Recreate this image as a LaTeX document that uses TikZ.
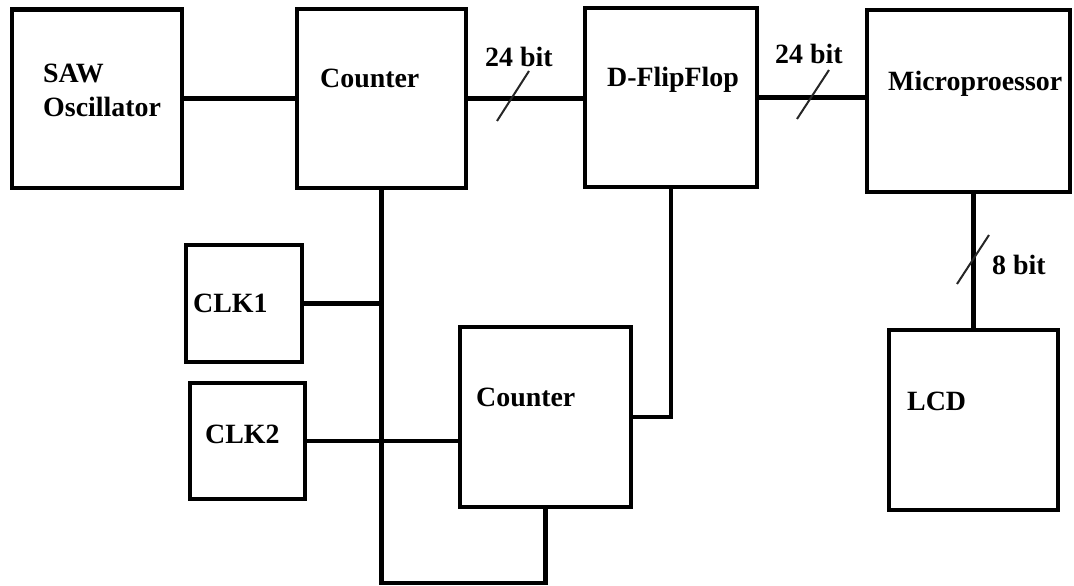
\documentclass[tikz,border=0pt]{standalone}
\usepackage{fontspec}
\setmainfont{Liberation Serif}
\begin{document}
\begin{tikzpicture}[x=1bp,y=-1bp,
  box/.style={draw, rectangle, line width=4.6bp, inner sep=0pt, outer sep=0pt},
  wire/.style={line width=4.5bp},
  thinwire/.style={line width=3.6bp},
  slashmark/.style={line width=2bp, draw=black!85},
  lbl/.style={font=\bfseries\fontsize{28}{31}\selectfont, anchor=base west, inner sep=0pt}]
\useasboundingbox (0,0) rectangle (1074,586);
% boxes
\node[box, minimum width=170bp, minimum height=178.5bp] (saw)   at (97,98.75) {};
\node[box, minimum width=169bp, minimum height=179bp]   (cnt1)  at (381.5,98.5) {};
\node[box, minimum width=172bp, minimum height=179bp]   (dff)   at (671,97.5) {};
\node[box, minimum width=203bp, minimum height=182bp]   (micro) at (968.5,101) {};
\node[box, minimum width=116bp, minimum height=117bp]   (clk1)  at (244,303.5) {};
\node[box, minimum width=115bp, minimum height=116bp]   (clk2)  at (247.5,441) {};
\node[box, minimum width=171bp, minimum height=180bp]   (cnt2)  at (545.5,417) {};
\node[box, minimum width=169bp, minimum height=180bp]   (lcd)   at (973.5,420) {};
% labels
\node[lbl] (tsaw)  at (43,82.5)   {SAW};
\node[lbl] (tosc)  at (43,116.5)  {Oscillator};
\node[lbl] (tc1)   at (320,88)    {Counter};
\node[lbl] (tdff)  at (607,87)    {D-FlipFlop};
\node[lbl] (tmic)  at (888,91)    {Microproessor};
\node[lbl] (tb1)   at (485,67)    {24 bit};
\node[lbl] (tb2)   at (775,64)    {24 bit};
\node[lbl] (tclk1) at (193,313)   {CLK1};
\node[lbl] (tclk2) at (205,443)   {CLK2};
\node[lbl] (tc2)   at (476,406)   {Counter};
\node[lbl] (tlcd)  at (907,410)   {LCD};
\node[lbl] (tb3)   at (992,275)   {8 bit};
% connectors
\coordinate (busend) at (381.5,583);
\draw[wire] (saw.east) -- (saw.east -| cnt1.west);
\draw[wire] (cnt1.east) -- (cnt1.east -| dff.west);
\draw[wire] (dff.east) -- (dff.east -| micro.west);
\draw[wire] (cnt1.south) -- (busend) -- (busend -| cnt2.south) -- (cnt2.south);
\draw[wire] (clk1.east) -- (clk1.east -| cnt1.south);
\draw[wire] (clk2.east) -- (clk2.east -| cnt2.west);
\draw[thinwire] (dff.south) |- (cnt2.east);
\draw[wire] (lcd.north |- micro.south) -- (lcd.north);
% bus width marks
\draw[slashmark] (497,121) -- (529,71);
\draw[slashmark] (797,119) -- (829,70);
\draw[slashmark] (957,284) -- (989,235);
\end{tikzpicture}
\end{document}
